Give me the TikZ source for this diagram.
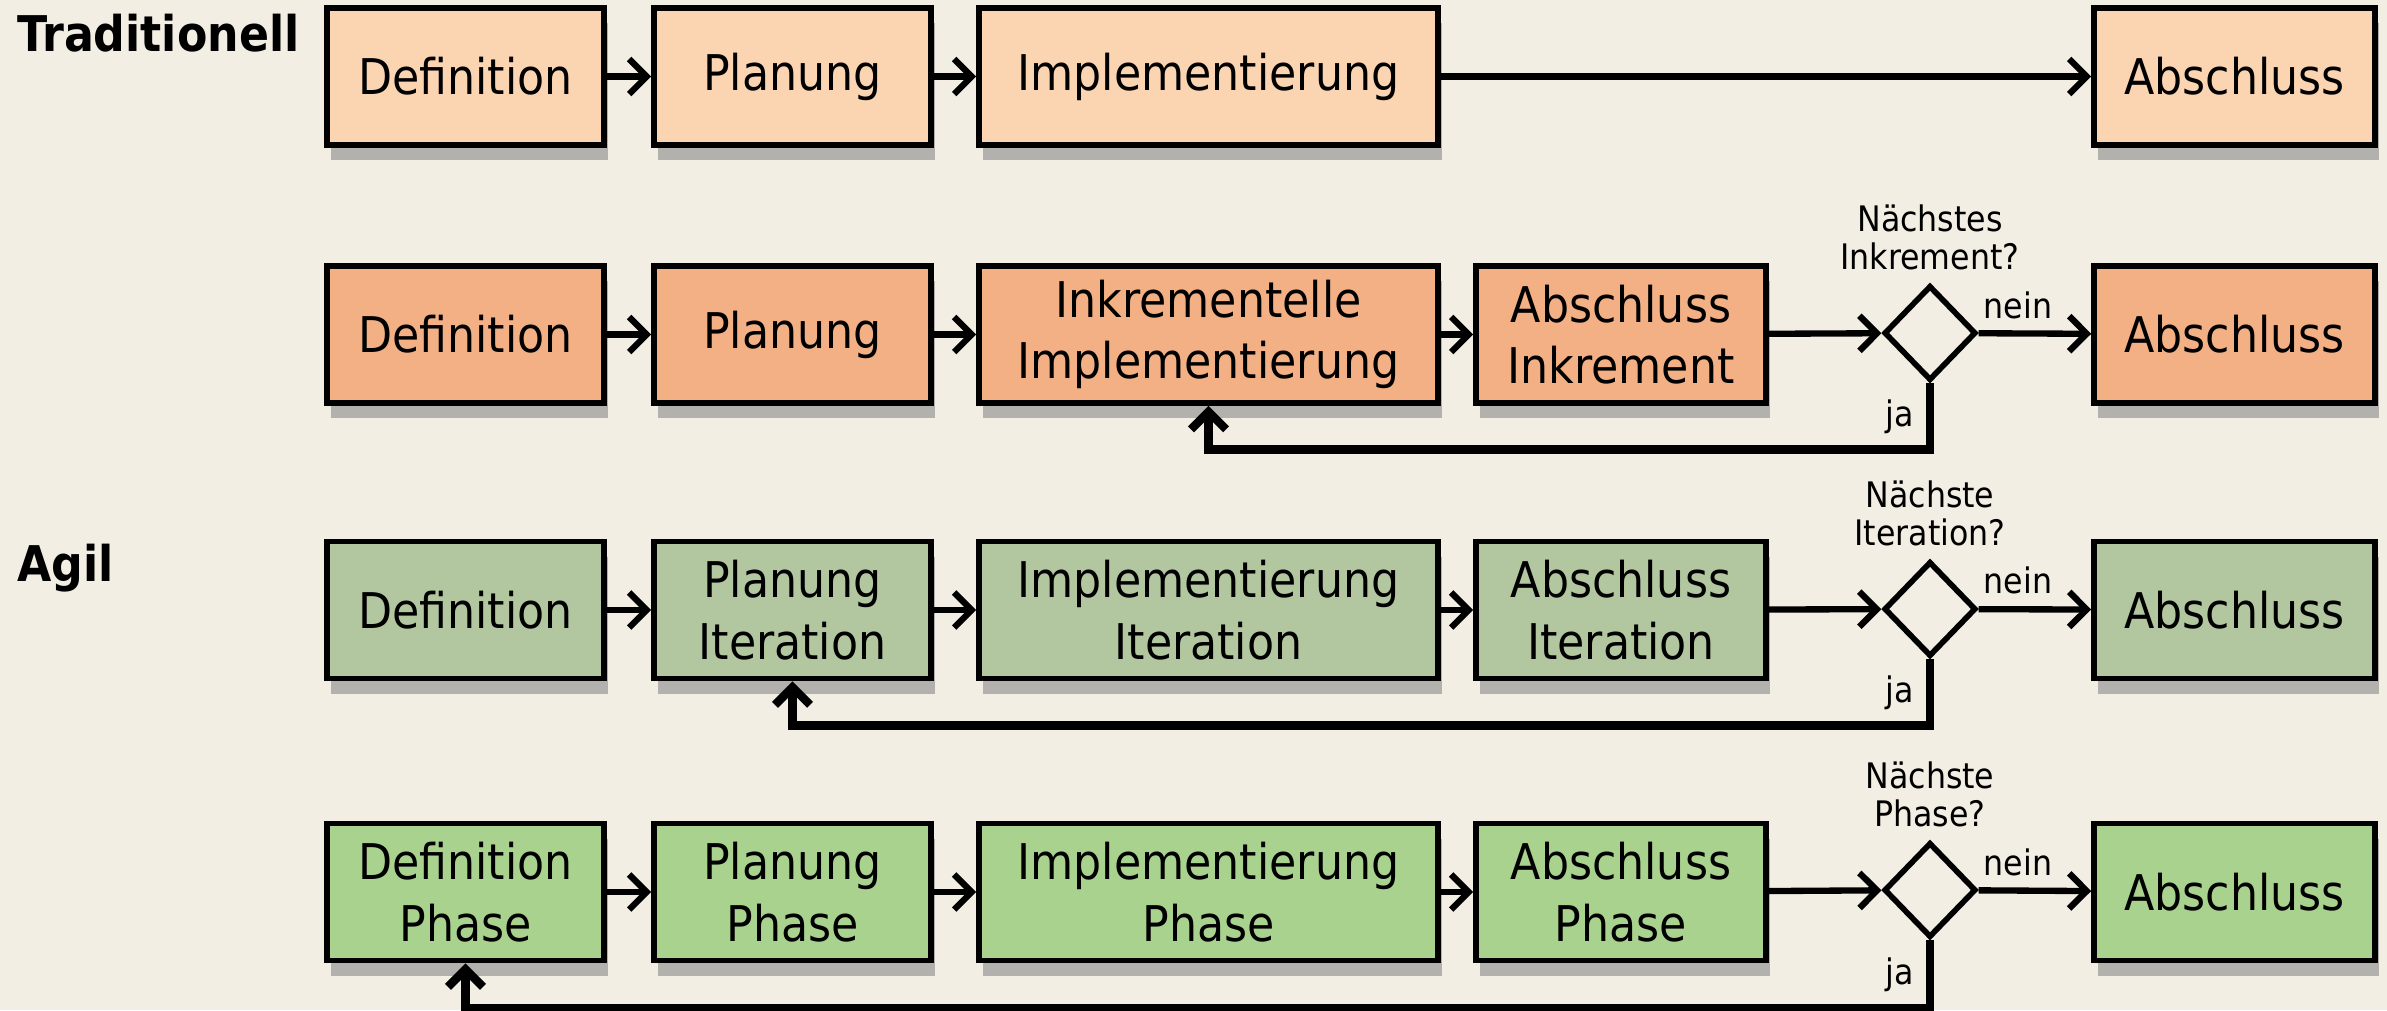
\documentclass[tikz,border=0pt]{standalone}
\usepackage{fontspec}
\setmainfont{DejaVu Sans Condensed}
\definecolor{paper}{RGB}{243,238,228}
\definecolor{tradpeach}{RGB}{251,212,178}
\definecolor{inkorange}{RGB}{242,176,132}
\definecolor{itersage}{RGB}{178,199,160}
\definecolor{phasegreen}{RGB}{168,210,142}
\usetikzlibrary{shapes.geometric,arrows.meta,positioning,shadows}

\begin{document}
\begin{tikzpicture}[>={Straight Barb[length=5pt,width=10pt]},
    every node/.style={font=\fontsize{14}{17.5}\selectfont},
    stage/.style={draw, line width=1.6pt, minimum height=1.37cm, align=center,
        drop shadow={shadow xshift=0.04cm, shadow yshift=-0.15cm, opacity=0.55}},
    ask/.style={diamond, draw, line width=1.6pt, minimum width=0.92cm, minimum height=0.95cm, inner sep=0pt},
    small/.style={font=\fontsize{10}{11}\selectfont, align=center},
    flow/.style={->, line width=1.8pt},
    back/.style={->, line width=2.4pt}]
    % Background
    \fill[paper] (0,0) rectangle (23.87,-10.10);
    \useasboundingbox (0,0) rectangle (23.87,-10.10);

    % Headings
    \node[anchor=west, font=\fontsize{14}{17}\selectfont\bfseries] (trad) at (0.05,-0.33) {Traditionell};
    \node[anchor=west, font=\fontsize{14}{17}\selectfont\bfseries] (agil) at (0.05,-5.68) {Agil};

    % Traditionell
    \node[stage, fill=tradpeach, minimum width=2.77cm] (def1) at (4.655,-0.765) {Definition};
    \node[stage, fill=tradpeach, minimum width=2.77cm] (plan1) at (7.925,-0.765) {Planung};
    \node[stage, fill=tradpeach, minimum width=4.59cm] (impl1) at (12.085,-0.765) {Implementierung};
    \node[stage, fill=tradpeach, minimum width=2.81cm] (end1) at (22.345,-0.765) {Abschluss};
    \draw[flow] (def1) -- (plan1);
    \draw[flow] (plan1) -- (impl1);
    \draw[flow] (impl1) -- (end1);

    % Inkrementell
    \node[stage, fill=inkorange, minimum width=2.77cm] (def2) at (4.655,-3.345) {Definition};
    \node[stage, fill=inkorange, minimum width=2.77cm] (plan2) at (7.925,-3.345) {Planung};
    \node[stage, fill=inkorange, minimum width=4.59cm] (impl2) at (12.085,-3.345) {Inkrementelle\\Implementierung};
    \node[stage, fill=inkorange, minimum width=2.90cm] (close2) at (16.21,-3.345) {Abschluss\\Inkrement};
    \node[ask] (ask2) at (19.30,-3.33) {};
    \node[small, above=0pt of ask2] (q2) {Nächstes\\Inkrement?};
    \node[stage, fill=inkorange, minimum width=2.81cm] (end2) at (22.345,-3.345) {Abschluss};
    \draw[flow] (def2) -- (plan2);
    \draw[flow] (plan2) -- (impl2);
    \draw[flow] (impl2) -- (close2);
    \draw[flow] (close2) -- (ask2);
    \draw[flow] (ask2) -- node[small, above, pos=0.35] {nein} (end2);
    \draw[back] (ask2.south) -- node[small, left] {ja} ++(0,-0.66) -| (impl2.south);

    % Agil: Iterationen
    \node[stage, fill=itersage, minimum width=2.77cm] (def3) at (4.655,-6.10) {Definition};
    \node[stage, fill=itersage, minimum width=2.77cm] (plan3) at (7.925,-6.10) {Planung\\Iteration};
    \node[stage, fill=itersage, minimum width=4.59cm] (impl3) at (12.085,-6.10) {Implementierung\\Iteration};
    \node[stage, fill=itersage, minimum width=2.90cm] (close3) at (16.21,-6.10) {Abschluss\\Iteration};
    \node[ask] (ask3) at (19.30,-6.09) {};
    \node[small, above=0pt of ask3] (q3) {Nächste\\Iteration?};
    \node[stage, fill=itersage, minimum width=2.81cm] (end3) at (22.345,-6.10) {Abschluss};
    \draw[flow] (def3) -- (plan3);
    \draw[flow] (plan3) -- (impl3);
    \draw[flow] (impl3) -- (close3);
    \draw[flow] (close3) -- (ask3);
    \draw[flow] (ask3) -- node[small, above, pos=0.35] {nein} (end3);
    \draw[back] (ask3.south) -- node[small, left] {ja} ++(0,-0.66) -| (plan3.south);

    % Agil: Phasen
    \node[stage, fill=phasegreen, minimum width=2.77cm] (def4) at (4.655,-8.92) {Definition\\Phase};
    \node[stage, fill=phasegreen, minimum width=2.77cm] (plan4) at (7.925,-8.92) {Planung\\Phase};
    \node[stage, fill=phasegreen, minimum width=4.59cm] (impl4) at (12.085,-8.92) {Implementierung\\Phase};
    \node[stage, fill=phasegreen, minimum width=2.90cm] (close4) at (16.21,-8.92) {Abschluss\\Phase};
    \node[ask] (ask4) at (19.30,-8.90) {};
    \node[small, above=0pt of ask4] (q4) {Nächste\\Phase?};
    \node[stage, fill=phasegreen, minimum width=2.81cm] (end4) at (22.345,-8.92) {Abschluss};
    \draw[flow] (def4) -- (plan4);
    \draw[flow] (plan4) -- (impl4);
    \draw[flow] (impl4) -- (close4);
    \draw[flow] (close4) -- (ask4);
    \draw[flow] (ask4) -- node[small, above, pos=0.35] {nein} (end4);
    \draw[back] (ask4.south) -- node[small, left] {ja} ++(0,-0.68) -| (def4.south);
\end{tikzpicture}
\end{document}
